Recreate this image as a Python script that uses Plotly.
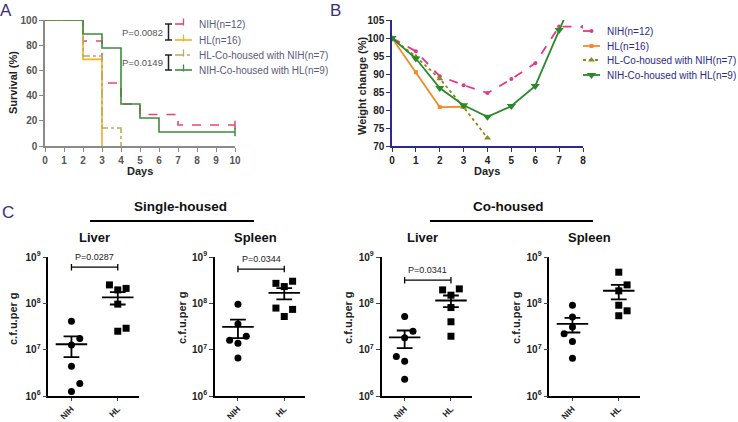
import numpy as np
import plotly.graph_objects as go

W, H = 738, 422
FONT = "Liberation Sans, Arial, sans-serif"

# ---- Panel A: survival (%) by day ----
days_nih = [0, 2, 3, 4, 5, 7, 10]
surv_nih = [100, 83.3, 50.0, 33.3, 25.0, 16.7, 16.7]
days_hl = [0, 2, 3]
surv_hl = [100, 68.75, 0]
days_hl_co = [0, 2, 3, 4]
surv_hl_co = [100, 71.4, 14.3, 0]
days_nih_co = [0, 2, 3, 4, 5, 6, 10]
surv_nih_co = [100, 88.9, 77.8, 33.3, 22.2, 11.1, 11.1]

# ---- Panel B: weight change (%) by day ----
wt_days = [0, 1, 2, 3, 4, 5, 6, 7, 8]
wt_nih = [100, 96.3, 89.4, 86.9, 84.7, 88.6, 93.0, 103.2, 103.1]
wt_hl = [100, 90.5, 80.8, 80.9]
wt_hl_co = [100, 94.8, 88.7, 80.8, 72.2]
wt_nih_co = [100, 94.3, 86.1, 81.3, 78.1, 81.1, 86.7, 102.2, 117.5]

series_labels = ["NIH(n=12)", "HL(n=16)", "HL-Co-housed with NIH(n=7)", "NIH-Co-housed with HL(n=9)"]

# ---- Panel C: c.f.u. per g ----
groups = ["NIH", "HL"]
single_liver_nih = [4.1e7, 1.75e7, 1.26e7, 4.4e6, 1.85e6, 1.25e6]
single_liver_hl = [2.5e8, 2.1e8, 1.95e8, 9.6e7, 2.5e7, 2.9e7]
single_spleen_nih = [9.5e7, 3.6e7, 1.95e7, 1.6e7, 1.38e7, 6.6e6]
single_spleen_hl = [2.7e8, 3.0e8, 2.3e8, 7.9e7, 7.4e7, 5.2e7]
co_liver_nih = [5.2e7, 2.5e7, 1.8e7, 7.1e6, 5.6e6, 2.3e6]
co_liver_hl = [1.95e8, 2.05e8, 1.5e8, 8.1e7, 4.0e7, 1.95e7]
co_spleen_nih = [9.1e7, 5.1e7, 3.1e7, 2.2e7, 1.5e7, 6.5e6]
co_spleen_hl = [4.7e8, 2.5e8, 1.86e8, 9.1e7, 6.9e7, 5.4e7]

# horizontal spread of the dots (-1 left, 0 centre, 1 right)
jit_single_liver = ([0, 1, 0, 0, 1, 0], [-1, 1, 0, 0, 0, 1])
jit_single_spleen = ([0, 0, 1, -1, 0, 0], [-1, 1, 0, -1, 1, 0])
jit_co_liver = ([0, 1, 0, -1, 0, 0], [-1, 1, 0, 0, 0, 0])
jit_co_spleen = ([0, 0, 0, -1, 0, 0], [0, 1, 0, 0, 1, 0])

p_values = ["P=0.0287", "P=0.0344", "P=0.0341", None]
p_survival = ["P=0.0082", "P=0.0149"]


# window pixels -> paper fractions
def px(x):
    return x / W


def py(y):
    return 1 - y / H


fig = go.Figure()

pink_a, orange_a, olive_a, green_a = "#e8466e", "#f5b01e", "#b3ae5c", "#3d8c3d"
pink_b, orange_b, olive_b, green_b = "#e5368c", "#f28c28", "#8a8a1e", "#2a8a2a"
navy = "#2b2b8a"

# Panel A
surv_sets = [
    (days_nih, surv_nih, pink_a, "dash"),
    (days_hl, surv_hl, orange_a, "solid"),
    (days_hl_co, surv_hl_co, olive_a, "dashdot"),
    (days_nih_co, surv_nih_co, green_a, "solid"),
]
for d, s, c, dash in surv_sets:
    fig.add_trace(go.Scatter(x=d, y=s, mode="lines", line=dict(color=c, width=1.6, dash=dash, shape="hv"),
                             xaxis="x", yaxis="y", showlegend=False, cliponaxis=False))
for d, s, c in [(days_nih, surv_nih, pink_a), (days_nih_co, surv_nih_co, green_a)]:
    fig.add_trace(go.Scatter(x=[d[-1]], y=[s[-1]], mode="markers",
                             marker=dict(symbol="line-ns", size=6, line=dict(color=c, width=1.5)),
                             xaxis="x", yaxis="y", showlegend=False, cliponaxis=False))

# Panel B
wt_sets = [
    (wt_nih, pink_b, "dash", "circle", 4),
    (wt_hl, orange_b, "solid", "square", 4),
    (wt_hl_co, olive_b, "dot", "triangle-up", 6),
    (wt_nih_co, green_b, "solid", "triangle-down", 8),
]
for vals, c, dash, sym, sz in wt_sets:
    fig.add_trace(go.Scatter(x=wt_days[:len(vals)], y=vals, mode="lines+markers",
                             line=dict(color=c, width=1.8, dash=dash),
                             marker=dict(symbol=sym, size=sz, color=c),
                             xaxis="x2", yaxis="y2", showlegend=False))

# Panel C
c_panels = [
    (single_liver_nih, single_liver_hl, jit_single_liver, 48.3),
    (single_spleen_nih, single_spleen_hl, jit_single_spleen, 214.8),
    (co_liver_nih, co_liver_hl, jit_co_liver, 381.5),
    (co_spleen_nih, co_spleen_hl, jit_co_spleen, 549.3),
]
bracket_log = [8.78, 8.74, 8.50, None]
for i, (nih, hl, jit, _) in enumerate(c_panels):
    xa, ya = f"x{i + 3}", f"y{i + 3}"
    for g, (vals, j, sym) in enumerate([(nih, jit[0], "circle"), (hl, jit[1], "square")]):
        vals = np.array(vals)
        xs = [g + 0.18 * k for k in j]
        fig.add_trace(go.Scatter(x=xs, y=vals, mode="markers", marker=dict(symbol=sym, size=7, color="black"),
                                 xaxis=xa, yaxis=ya, showlegend=False, cliponaxis=False))
        m = vals.mean()
        se = vals.std(ddof=1) / np.sqrt(len(vals))
        fig.add_trace(go.Scatter(
            x=[g - 0.34, g + 0.34, None, g - 0.17, g + 0.17, None, g - 0.17, g + 0.17, None, g, g],
            y=[m, m, None, m + se, m + se, None, m - se, m - se, None, m - se, m + se],
            mode="lines", line=dict(color="black", width=1.8),
            xaxis=xa, yaxis=ya, showlegend=False))
    if p_values[i]:
        b = bracket_log[i]
        lo, hi = 10 ** (b - 0.07), 10 ** (b + 0.07)
        fig.add_trace(go.Scatter(x=[0, 0, None, 0, 1, None, 1, 1], y=[lo, hi, None, 10 ** b, 10 ** b, None, lo, hi],
                                 mode="lines", line=dict(color="black", width=1.3),
                                 xaxis=xa, yaxis=ya, showlegend=False, cliponaxis=False))
        fig.add_annotation(x=0.5, y=b + 0.07, xref=xa, yref=ya, text=p_values[i], showarrow=False,
                           xanchor="center", yanchor="bottom", font=dict(size=9, color="#222"))

# Overlay in window-pixel space for legends and decorations
ov = dict(xaxis="x7", yaxis="y7", showlegend=False, hoverinfo="skip")
rows_a = [24, 40, 55, 70]
for (d, s, c, dash), r, lab in zip(surv_sets, rows_a, series_labels):
    fig.add_trace(go.Scatter(x=[175, 192], y=[r, r], mode="lines", line=dict(color=c, width=1.6, dash=dash), **ov))
    fig.add_trace(go.Scatter(x=[183.5], y=[r - 2], mode="markers",
                             marker=dict(symbol="line-ns", size=5, line=dict(color=c, width=1.3)), **ov))
    fig.add_annotation(x=197, y=r, xref="x7", yref="y7", text=lab, showarrow=False, xanchor="left",
                       yanchor="middle", font=dict(size=10, color="#5a5a78"))
for (t, b), lab in zip([(24, 40), (55, 70)], p_survival):
    fig.add_trace(go.Scatter(x=[165, 172, None, 168.5, 168.5, None, 165, 172], y=[t, t, None, t, b, None, b, b],
                             mode="lines", line=dict(color="#222", width=1.5), **ov))
    fig.add_annotation(x=165, y=(t + b) / 2, xref="x7", yref="y7", text=lab, showarrow=False, xanchor="right",
                       yanchor="middle", font=dict(size=9.5, color="#555"))

rows_b = [31, 46, 60, 75]
for (vals, c, dash, sym, sz), r, lab in zip(wt_sets, rows_b, series_labels):
    fig.add_trace(go.Scatter(x=[583, 600], y=[r, r], mode="lines", line=dict(color=c, width=1.8, dash=dash), **ov))
    fig.add_trace(go.Scatter(x=[591.5], y=[r], mode="markers", marker=dict(symbol=sym, size=sz, color=c), **ov))
    fig.add_annotation(x=605, y=r, xref="x7", yref="y7", text=lab, showarrow=False, xanchor="left",
                       yanchor="middle", font=dict(size=10, color=navy))

fig.add_trace(go.Scatter(x=[90, 254, None, 430, 593], y=[221, 221, None, 221, 221], mode="lines",
                         line=dict(color="black", width=2), **ov))


# Axes
def lin_axis(dom, rng, dtick, col, tickcol, anchor):
    return dict(domain=dom, range=rng, dtick=dtick, showline=True, linecolor=col, linewidth=1.5,
                ticks="outside", ticklen=4, tickcolor=col, tickwidth=1.3, showgrid=False, zeroline=False,
                tickfont=dict(size=10, color=tickcol, weight="bold"), anchor=anchor, automargin=False)


ydom_ab = [py(146), py(20)]
layout_axes = dict(
    xaxis=lin_axis([px(45), px(235)], [0, 10], 1, "#8a8a8a", "#555", "y"),
    yaxis=lin_axis(ydom_ab, [0, 100], 20, "#8a8a8a", "#555", "x"),
    xaxis2=lin_axis([px(392), px(583)], [0, 8], 1, navy, "#222", "y2"),
    yaxis2=lin_axis(ydom_ab, [70, 105], 5, navy, "#222", "x2"),
    xaxis7=dict(domain=[0, 1], range=[0, W], visible=False, anchor="y7", automargin=False),
    yaxis7=dict(domain=[0, 1], range=[H, 0], visible=False, anchor="x7", automargin=False),
)
ydom_c = [py(396), py(257)]
for i, (_, _, _, x0) in enumerate(c_panels):
    k = i + 3
    layout_axes[f"xaxis{k}"] = dict(
        domain=[px(x0), px(x0 + 90.3)], range=[-0.5, 1.45], tickvals=[0, 1], ticktext=groups, tickangle=-45,
        showline=True, linecolor="black", linewidth=1.5, ticks="outside", ticklen=3, tickwidth=1.3,
        showgrid=False, zeroline=False, anchor=f"y{k}", automargin=False,
        tickfont=dict(size=8.5, color="#222", weight="bold"))
    layout_axes[f"yaxis{k}"] = dict(
        domain=ydom_c, type="log", range=[6, 9], tickvals=[1e6, 1e7, 1e8, 1e9],
        ticktext=[f"10<sup>{e}</sup>" for e in range(6, 10)], showline=True, linecolor="black", linewidth=1.5,
        ticks="outside", ticklen=4, tickwidth=1.3, showgrid=False, zeroline=False, anchor=f"x{k}",
        automargin=False, tickfont=dict(size=10, color="#222", weight="bold"))

fig.update_layout(**layout_axes)

# Text (centre positions in window pixels)
texts = [
    ("A", 6, 11, 17, "#3c2d7c", "normal", 0),
    ("B", 335, 10, 17, "#3c2d7c", "normal", 0),
    ("C", 8, 212, 17, "#3c2d7c", "normal", 0),
    ("Survival (%)", 13, 83, 11, "#222", "bold", -90),
    ("Days", 140, 171, 11, "#222", "bold", 0),
    ("Weight change (%)", 362, 86, 11, "#222", "bold", -90),
    ("Days", 487, 171, 11, "#222", "bold", 0),
    ("Single-housed", 180, 206, 13.5, "#111", "bold", 0),
    ("Co-housed", 508, 206, 13.5, "#111", "bold", 0),
    ("Liver", 94, 237, 13, "#111", "bold", 0),
    ("Spleen", 255, 237, 13, "#111", "bold", 0),
    ("Liver", 422, 237, 13, "#111", "bold", 0),
    ("Spleen", 589, 237, 13, "#111", "bold", 0),
]
for x in [13, 182, 348, 516]:
    texts.append(("c.f.u.per g", x, 318, 11, "#222", "bold", -90))
for t, x, y, s, c, w, ang in texts:
    fig.add_annotation(x=px(x), y=py(y), xref="paper", yref="paper", text=t, showarrow=False, textangle=ang,
                       xanchor="center", yanchor="middle", font=dict(size=s, color=c, weight=w))

fig.update_layout(
    width=W, height=H, margin=dict(l=0, r=0, t=0, b=0, autoexpand=False),
    paper_bgcolor="white", plot_bgcolor="rgba(0,0,0,0)",
    font=dict(family=FONT, color="#222"),
)

# page margin off so the 738x422 figure sits exactly in the window
fig.write_html("out.html", config={"displayModeBar": False},
               post_script="document.body.style.margin='0'; document.body.style.overflow='hidden';")
